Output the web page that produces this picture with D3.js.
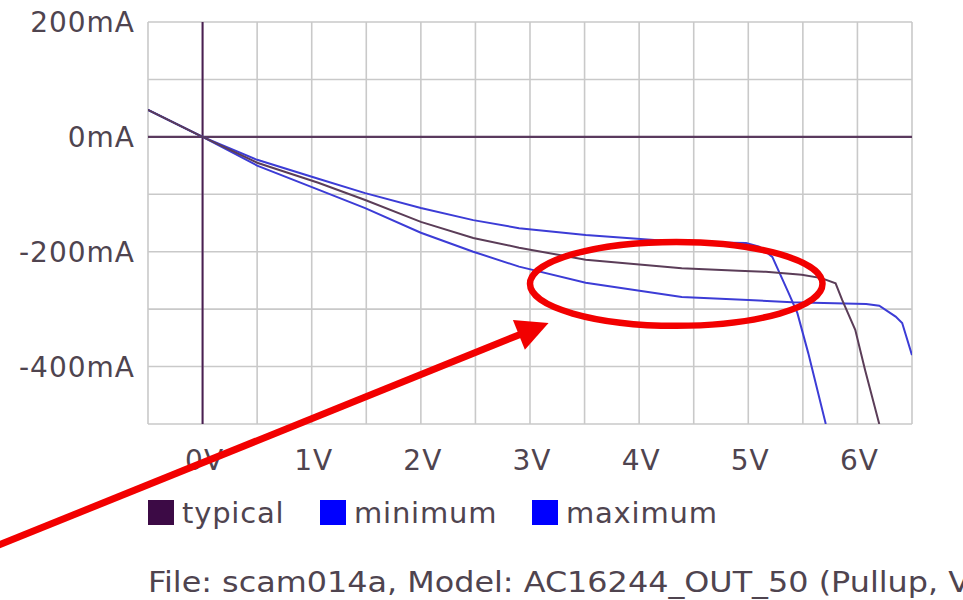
<!DOCTYPE html>
<html>
<head>
<meta charset="utf-8">
<script src="https://cdn.jsdelivr.net/npm/d3@7"></script>
<style>
  body { margin: 0; background: #fff; }
  svg { display: block; }
  text { font-family: "DejaVu Sans", Verdana, sans-serif; fill: #4f444f; }
</style>
</head>
<body>
<div class="ivChart"></div>
<script>
// voltage (V), current (mA)
const typical = [
    [-0.5, 47], [0, 0], [0.5, -45], [1.06, -80], [1.49, -110], [2.0, -148],
    [2.48, -176], [2.9, -193], [3.51, -214], [4.39, -229], [4.91, -233],
    [5.16, -235], [5.49, -240], [5.67, -246], [5.8, -255], [5.86, -284],
    [5.98, -336], [6.07, -406], [6.2, -500]
];
const minimum = [
    [-0.5, 47], [0, 0], [0.5, -40], [1.06, -73], [1.49, -98], [2.0, -124],
    [2.48, -145], [2.9, -159], [3.51, -171], [4.39, -183], [4.98, -185],
    [5.1, -191], [5.22, -209], [5.37, -272], [5.45, -307], [5.55, -377],
    [5.71, -500]
];
const maximum = [
    [-0.5, 47], [0, 0], [0.5, -50], [1.06, -92], [1.49, -124], [2.0, -167],
    [2.48, -200], [2.9, -226], [3.51, -254], [4.39, -279], [5.0, -284],
    [5.4, -288], [6.08, -291], [6.2, -294], [6.35, -313], [6.41, -324],
    [6.5, -380]
];
const xTicks = [0, 1, 2, 3, 4, 5, 6];
const yTicks = [200, 0, -200, -400];
const legendNames = ["typical", "minimum", "maximum"];
const footer = "File: scam014a, Model: AC16244_OUT_50 (Pullup, V";

let width = 963, height = 600;
let svg = d3.select(".ivChart").append("svg")
            .attr("width", width)
            .attr("height", height);

let x = d3.scaleLinear().domain([-0.5, 6.5]).range([148, 912]);
let y = d3.scaleLinear().domain([-500, 200]).range([424, 22]);

// grid
let grid = svg.append("g").attr("class", "grid")
              .attr("stroke", "#c9c9c9").attr("stroke-width", 1.6);
grid.selectAll(".vx")
    .data(d3.range(-0.5, 6.51, 0.5))
    .enter().append("line")
    .attr("x1", d => x(d)).attr("x2", d => x(d))
    .attr("y1", y(200)).attr("y2", y(-500));
grid.selectAll(".hy")
    .data(d3.range(-500, 201, 100))
    .enter().append("line")
    .attr("x1", x(-0.5)).attr("x2", x(6.5))
    .attr("y1", d => y(d)).attr("y2", d => y(d));

// zero axes
svg.append("line")
   .attr("x1", x(0)).attr("x2", x(0))
   .attr("y1", y(200)).attr("y2", y(-500))
   .attr("stroke", "#4a1f52").attr("stroke-width", 2);
svg.append("line")
   .attr("x1", x(-0.5)).attr("x2", x(6.5))
   .attr("y1", y(0)).attr("y2", y(0))
   .attr("stroke", "#5a3a5e").attr("stroke-width", 2.2);

// tick labels
svg.selectAll(".ylab")
   .data(yTicks)
   .enter().append("text")
   .attr("x", 135)
   .attr("y", d => y(d))
   .attr("dy", "0.36em")
   .attr("text-anchor", "end")
   .attr("font-size", 28)
   .attr("letter-spacing", 1)
   .text(d => d + "mA");
svg.selectAll(".xlab")
   .data(xTicks)
   .enter().append("text")
   .attr("x", d => x(d) + 2)
   .attr("y", 460)
   .attr("dy", "0.36em")
   .attr("text-anchor", "middle")
   .attr("font-size", 28)
   .attr("letter-spacing", 1)
   .text(d => d + "V");

// curves
svg.append("clipPath").attr("id", "plotclip")
   .append("rect")
   .attr("x", x(-0.5)).attr("y", y(200))
   .attr("width", x(6.5) - x(-0.5)).attr("height", y(-500) - y(200));

let line = d3.line().x(d => x(d[0])).y(d => y(d[1]));
let series = [
    {name: "maximum", data: maximum, color: "#3c3cd6"},
    {name: "minimum", data: minimum, color: "#3c3cd6"},
    {name: "typical", data: typical, color: "#5b3d58"}
];
svg.append("g").attr("clip-path", "url(#plotclip)")
   .selectAll("path")
   .data(series)
   .enter().append("path")
   .attr("d", d => line(d.data))
   .attr("fill", "none")
   .attr("stroke", d => d.color)
   .attr("stroke-width", 2);

// legend
let legendColors = {typical: "#3c0a45", minimum: "#0000ff", maximum: "#0000ff"};
let legendX = [148, 320, 532];
let legend = svg.selectAll(".legend")
                .data(legendNames)
                .enter().append("g")
                .attr("transform", (d, i) => "translate(" + legendX[i] + ",500)");
legend.append("rect")
      .attr("width", 26).attr("height", 25)
      .attr("fill", d => legendColors[d]);
legend.append("text")
      .attr("x", 34).attr("y", 12.5)
      .attr("dy", "0.36em")
      .attr("font-size", 29)
      .attr("letter-spacing", 0.8)
      .text(d => d);

// footer (runs off the right edge in the original)
svg.append("text")
   .attr("x", 148).attr("y", 582)
   .attr("dy", "0.36em")
   .attr("font-size", 28)
   .attr("textLength", 822)
   .attr("lengthAdjust", "spacingAndGlyphs")
   .text(footer);

// red annotation
svg.append("ellipse")
   .attr("cx", x(4.34)).attr("cy", y(-256))
   .attr("rx", x(1.34) - x(0)).attr("ry", y(-73) - y(0))
   .attr("fill", "none")
   .attr("stroke", "#f20000")
   .attr("stroke-width", 6.5);

let start = [x(-1.87), y(-711)], tip = [x(3.17), y(-324)];
let dx = tip[0] - start[0], dy = tip[1] - start[1];
let len = Math.sqrt(dx * dx + dy * dy);
let ux = dx / len, uy = dy / len;
let headL = 32, headW = 32;
let bx = tip[0] - ux * headL, by = tip[1] - uy * headL;
svg.append("line")
   .attr("x1", start[0]).attr("y1", start[1])
   .attr("x2", bx + ux * 2).attr("y2", by + uy * 2)
   .attr("stroke", "#f20000").attr("stroke-width", 7);
svg.append("polygon")
   .attr("points", [
       tip,
       [bx - uy * headW / 2, by + ux * headW / 2],
       [bx + uy * headW / 2, by - ux * headW / 2]
   ].map(p => p.join(",")).join(" "))
   .attr("fill", "#f20000");
</script>
</body>
</html>
